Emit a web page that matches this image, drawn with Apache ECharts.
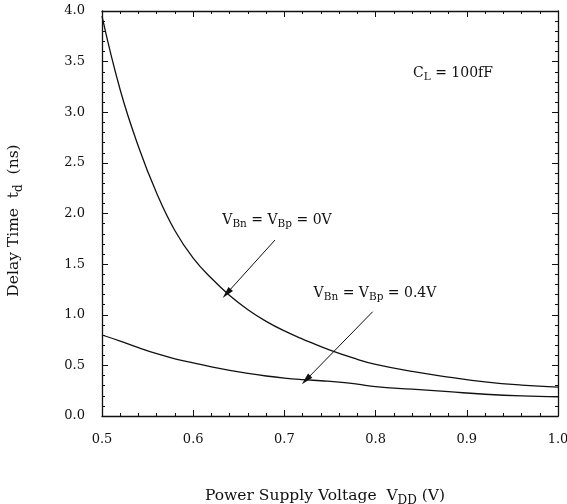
<!DOCTYPE html>
<html>
<head>
<meta charset="utf-8">
<script src="https://cdn.jsdelivr.net/npm/echarts@6/dist/echarts.min.js"></script>
<style>html,body{margin:0;padding:0;background:#fff}#c{width:567px;height:504px}</style>
</head>
<body>
<div id="c"></div>
<script>
// Data
var vdd0 = [0.50, 0.52, 0.54, 0.56, 0.58, 0.60, 0.62, 0.64, 0.66, 0.68, 0.70, 0.72, 0.75, 0.78, 0.80, 0.84, 0.88, 0.92, 0.96, 1.00];
var td0  = [3.95, 3.22, 2.66, 2.20, 1.83, 1.56, 1.36, 1.19, 1.05, 0.935, 0.84, 0.76, 0.65, 0.56, 0.51, 0.44, 0.385, 0.337, 0.305, 0.285];
var vdd04 = [0.50, 0.52, 0.54, 0.56, 0.58, 0.60, 0.62, 0.64, 0.66, 0.68, 0.70, 0.72, 0.74, 0.76, 0.78, 0.80, 0.84, 0.88, 0.92, 0.96, 1.00];
var td04  = [0.80, 0.74, 0.675, 0.615, 0.565, 0.525, 0.485, 0.45, 0.42, 0.395, 0.375, 0.36, 0.348, 0.335, 0.315, 0.29, 0.265, 0.24, 0.215, 0.198, 0.19];
var xTicks = [0.5, 0.6, 0.7, 0.8, 0.9, 1.0];
var yTicks = [0.0, 0.5, 1.0, 1.5, 2.0, 2.5, 3.0, 3.5, 4.0];
// annotation arrows: [from, to] in data units
var arrow0  = [[0.6897, 1.738], [0.6367, 1.21]];
var arrow04 = [[0.7968, 1.030], [0.7237, 0.356]];

var FONT = 'DejaVu Serif';
function pairs(xs, ys) { return xs.map(function (x, i) { return [x, ys[i]]; }); }
var sub = { fontSize: 10.5, fontFamily: FONT, color: '#111', padding: [9, 0, 0, 0], lineHeight: 10 };
var subBig = { fontSize: 12, fontFamily: FONT, color: '#111', padding: [10, 0, 0, 0], lineHeight: 12 };

var chart = echarts.init(document.getElementById('c'), null, { renderer: 'canvas' });
function axisLine() { return { show: true, onZero: false, lineStyle: { color: '#111', width: 1.3 } }; }
function tick() { return { show: true, inside: true, length: 6, lineStyle: { color: '#111', width: 1 } }; }
function minor() { return { show: true, splitNumber: 5, length: 3, lineStyle: { color: '#111', width: 1 } }; }
function fmt(v) { return v.toFixed(1); }

chart.setOption({
  animation: false,
  backgroundColor: '#fff',
  grid: { left: 102, right: 9, top: 11, bottom: 88, containLabel: false, outerBoundsMode: 'none' },
  xAxis: [{
    type: 'value', position: 'bottom', min: xTicks[0], max: xTicks[xTicks.length - 1], interval: 0.1,
    axisLine: axisLine(), axisTick: tick(), minorTick: minor(), splitLine: { show: false },
    axisLabel: { margin: 17, fontSize: 13, fontFamily: FONT, color: '#111', formatter: fmt },
    name: 'Power Supply Voltage  V{sub|DD} (V)', nameLocation: 'middle', nameGap: 72,
    nameTextStyle: { fontSize: 15.5, fontFamily: FONT, color: '#111', padding: [0, 10, 0, 0], rich: { sub: subBig } }
  }, {
    type: 'value', position: 'top', min: xTicks[0], max: xTicks[xTicks.length - 1], interval: 0.1,
    axisLine: axisLine(), axisTick: tick(), minorTick: minor(), splitLine: { show: false }, axisLabel: { show: false }
  }],
  yAxis: [{
    type: 'value', position: 'left', min: yTicks[0], max: yTicks[yTicks.length - 1], interval: 0.5,
    axisLine: axisLine(), axisTick: tick(), minorTick: minor(), splitLine: { show: false },
    axisLabel: { margin: 17, fontSize: 13, fontFamily: FONT, color: '#111', formatter: fmt },
    name: 'Delay Time  t{sub|d}  (ns)', nameLocation: 'middle', nameGap: 80, nameRotate: 90,
    nameTextStyle: { fontSize: 15.5, fontFamily: FONT, color: '#111', padding: [0, 14, 0, 0], rich: { sub: subBig } }
  }, {
    type: 'value', position: 'right', min: yTicks[0], max: yTicks[yTicks.length - 1], interval: 0.5,
    axisLine: axisLine(), axisTick: tick(), minorTick: minor(), splitLine: { show: false }, axisLabel: { show: false }
  }],
  series: [{
    name: 'VBn = VBp = 0V', type: 'line', data: pairs(vdd0, td0), smooth: 0.45, showSymbol: false,
    lineStyle: { color: '#111', width: 1.3 },
    markLine: {
      silent: true, symbol: ['none', 'triangle'], symbolSize: [6, 12], animation: false,
      lineStyle: { color: '#111', width: 1, type: 'solid' }, label: { show: false },
      data: [[{ coord: arrow0[0] }, { coord: arrow0[1] }]]
    }
  }, {
    name: 'VBn = VBp = 0.4V', type: 'line', data: pairs(vdd04, td04), smooth: 0.45, showSymbol: false,
    lineStyle: { color: '#111', width: 1.3 },
    markLine: {
      silent: true, symbol: ['none', 'triangle'], symbolSize: [6, 12], animation: false,
      lineStyle: { color: '#111', width: 1, type: 'solid' }, label: { show: false },
      data: [[{ coord: arrow04[0] }, { coord: arrow04[1] }]]
    }
  }],
  graphic: [
    { type: 'text', x: 453, y: 73, style: { text: 'C{sub|L} = 100fF', align: 'center', verticalAlign: 'middle', font: '14px "DejaVu Serif"', fill: '#111', rich: { sub: sub } } },
    { type: 'text', x: 277, y: 220, style: { text: 'V{sub|Bn} = V{sub|Bp} = 0V', align: 'center', verticalAlign: 'middle', font: '14px "DejaVu Serif"', fill: '#111', rich: { sub: sub } } },
    { type: 'text', x: 375, y: 293, style: { text: 'V{sub|Bn} = V{sub|Bp} = 0.4V', align: 'center', verticalAlign: 'middle', font: '14px "DejaVu Serif"', fill: '#111', rich: { sub: sub } } }
  ]
});
</script>
</body>
</html>
